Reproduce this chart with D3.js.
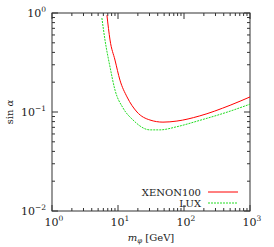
<!DOCTYPE html>
<html>
<head>
<meta charset="utf-8">
<script src="https://d3js.org/d3.v7.min.js"></script>
<style>
body { margin: 0; background: #fff; }
text { font-family: "DejaVu Serif", "Liberation Serif", serif; fill: #222; }
</style>
</head>
<body>
<div id="chart"></div>
<script>
// masses in GeV, upper limits on sin(alpha)
var xenonMass = [6.8, 7.57, 9.0, 10.7, 13.7, 19.4, 30.5, 48, 78, 170, 500, 1000];
var xenonSin  = [0.95, 0.534, 0.335, 0.21, 0.142, 0.1, 0.083, 0.079, 0.081, 0.091, 0.117, 0.142];
var luxMass = [5.7, 6.35, 7.57, 9.0, 11.9, 16.9, 30.5, 43, 78, 170, 500, 1000];
var luxSin  = [0.89, 0.534, 0.285, 0.167, 0.11, 0.083, 0.066, 0.066, 0.071, 0.082, 0.102, 0.12];
var seriesNames = ["XENON100", "LUX"];
var xTicks = [1, 10, 100, 1000];
var yTicks = [0.01, 0.1, 1];

var W = 274, H = 247;
var m = {left: 52, top: 13, right: 24, bottom: 36};
var w = W - m.left - m.right, h = H - m.top - m.bottom;

var svg = d3.select('#chart').append('svg')
  .attr('width', W).attr('height', H);
var g = svg.append('g').attr('transform', 'translate(' + m.left + ',' + m.top + ')');

var x = d3.scaleLog().domain([1, 1000]).range([0, w]);
var y = d3.scaleLog().domain([0.01, 1]).range([h, 0]);

// minor ticks
var xMinor = [], yMinor = [];
for (var d = 1; d < 1000; d *= 10) for (var k = 2; k < 10; k++) xMinor.push(d * k);
for (var d = 0.01; d < 1; d *= 10) for (var k = 2; k < 10; k++) yMinor.push(d * k);

function ticks(vals, len) {
  vals.forEach(function(v) {
    var px = x(v);
    g.append('line').attr('x1', px).attr('x2', px).attr('y1', h).attr('y2', h - len).attr('stroke', '#333');
    g.append('line').attr('x1', px).attr('x2', px).attr('y1', 0).attr('y2', len).attr('stroke', '#333');
  });
}
function yticksDraw(vals, len) {
  vals.forEach(function(v) {
    var py = y(v);
    g.append('line').attr('x1', 0).attr('x2', len).attr('y1', py).attr('y2', py).attr('stroke', '#333');
    g.append('line').attr('x1', w).attr('x2', w - len).attr('y1', py).attr('y2', py).attr('stroke', '#333');
  });
}
ticks(xMinor, 3);
ticks(xTicks, 6);
yticksDraw(yMinor, 3);
yticksDraw(yTicks, 6);

g.append('rect').attr('width', w).attr('height', h)
  .attr('fill', 'none').attr('stroke', '#333').attr('stroke-width', 1);

function pow10(sel, v) {
  var e = Math.round(Math.log10(v));
  sel.append('tspan').text('10');
  sel.append('tspan').attr('dy', -5).attr('font-size', 7.5).text(e < 0 ? '\u2212' + (-e) : e);
}

xTicks.forEach(function(v) {
  var t = g.append('text').attr('x', x(v) + 2).attr('y', h + 15)
    .attr('text-anchor', 'middle').attr('font-size', 11);
  pow10(t, v);
});
yTicks.forEach(function(v) {
  var t = g.append('text').attr('x', -6).attr('y', y(v) + 4)
    .attr('text-anchor', 'end').attr('font-size', 11);
  pow10(t, v);
});

// axis titles
var xt = svg.append('text').attr('x', m.left + w / 2).attr('y', H - 6)
  .attr('text-anchor', 'middle').attr('font-size', 10);
xt.append('tspan').attr('font-style', 'italic').text('m');
xt.append('tspan').attr('dy', 2).attr('font-size', 7).attr('font-style', 'italic').text('\u03c6');
xt.append('tspan').attr('dy', -2).text(' [GeV]');

var yt = svg.append('text')
  .attr('transform', 'translate(13,' + (m.top + h / 2) + ') rotate(-90)')
  .attr('text-anchor', 'middle').attr('font-size', 10);
yt.append('tspan').text('sin ');
yt.append('tspan').attr('font-style', 'italic').text('\u03b1');

var line = d3.line()
  .x(function(d) { return x(d[0]); })
  .y(function(d) { return y(d[1]); })
  .curve(d3.curveMonotoneX);

g.append('clipPath').attr('id', 'clip').append('rect').attr('width', w).attr('height', h);
var plot = g.append('g').attr('clip-path', 'url(#clip)');

plot.append('path').attr('d', line(d3.zip(xenonMass, xenonSin)))
  .attr('fill', 'none').attr('stroke', '#ff0000').attr('stroke-width', 1);
plot.append('path').attr('d', line(d3.zip(luxMass, luxSin)))
  .attr('fill', 'none').attr('stroke', '#22dd22').attr('stroke-width', 1).attr('stroke-dasharray', '2,1');

// legend
var styles = [{c: '#ff0000', dash: null}, {c: '#22dd22', dash: '2,1'}];
seriesNames.forEach(function(n, i) {
  var ly = 179 + i * 11;
  g.append('text').attr('x', 149).attr('y', ly + 4).attr('text-anchor', 'end').attr('font-size', 10).text(n);
  g.append('line').attr('x1', 156).attr('x2', 186).attr('y1', ly).attr('y2', ly)
    .attr('stroke', styles[i].c).attr('stroke-dasharray', styles[i].dash);
});
</script>
</body>
</html>
